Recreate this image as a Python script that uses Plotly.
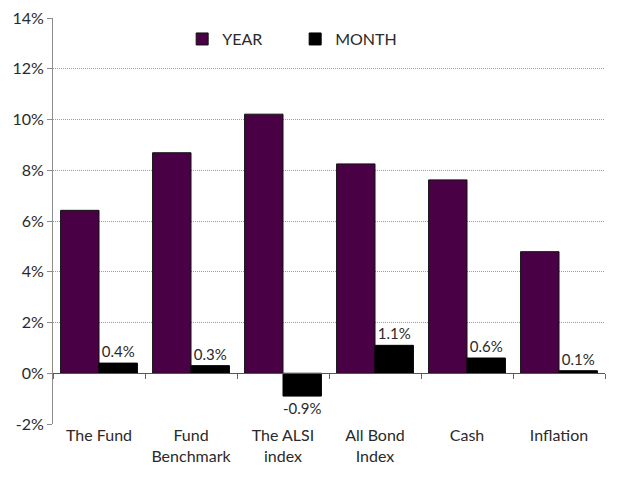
import plotly.graph_objects as go

categories = ["The Fund", "Fund<br>Benchmark", "The ALSI<br>index", "All Bond<br>Index", "Cash", "Inflation"]
year_values = [6.42, 8.69, 10.21, 8.25, 7.62, 4.79]
month_values = [0.4, 0.3, -0.9, 1.1, 0.6, 0.1]
month_labels = ["0.4%", "0.3%", "-0.9%", "1.1%", "0.6%", "0.1%"]
y_ticks = [-2, 0, 2, 4, 6, 8, 10, 12, 14]
y_tick_labels = ["-2%", "0%", "2%", "4%", "6%", "8%", "10%", "12%", "14%"]

FONT = "Lato, 'Open Sans', sans-serif"
TXT = "#2a2a2a"

fig = go.Figure()
fig.add_trace(go.Bar(
    x=categories, y=year_values, name="YEAR",
    marker=dict(color="#4A0045", line=dict(color="#111111", width=1)),
))
fig.add_trace(go.Bar(
    x=categories, y=month_values, name="MONTH",
    marker=dict(color="#000000", line=dict(color="#000000", width=1)),
    text=month_labels, textposition="outside", cliponaxis=False,
    textfont=dict(size=15, color=TXT, family=FONT),
))
# helper trace for the zero-line axis with boundary ticks
fig.add_trace(go.Scatter(
    x=categories, y=[0] * len(categories), xaxis="x2", mode="none",
    showlegend=False, hoverinfo="skip",
))

fig.update_layout(
    width=632, height=493,
    margin=dict(l=45, r=35, t=10, b=77, autoexpand=False),
    paper_bgcolor="white", plot_bgcolor="white",
    barmode="group", bargap=0.165, bargroupgap=0,
    font=dict(family=FONT, size=15, color=TXT),
    showlegend=True,
    legend=dict(orientation="h", x=0.234, y=0.99, xanchor="left", yanchor="top",
                font=dict(size=16, color=TXT, family=FONT),
                bgcolor="rgba(0,0,0,0)", itemwidth=30, entrywidth=68),
    yaxis=dict(
        range=[-2, 14.0001], tickvals=y_ticks, ticktext=y_tick_labels,
        showgrid=True, gridcolor="#9e9e9e", griddash="1px,1px", gridwidth=1,
        zeroline=False, showline=True, linecolor="#8c8c8c", linewidth=1,
        ticks="outside", ticklen=5, tickcolor="#8c8c8c", automargin=False,
        ticklabeloverflow="allow",
        tickfont=dict(size=16, color=TXT, family=FONT),
    ),
    xaxis=dict(
        showline=False, ticks="", showgrid=False, automargin=False,
        tickfont=dict(size=16, color=TXT, family=FONT),
    ),
    xaxis2=dict(
        overlaying="x", matches="x", anchor="free", position=0.125,
        showticklabels=False, showline=True, linecolor="#555555", linewidth=1,
        ticks="outside", tickson="boundaries", ticklen=5, tickcolor="#666666",
        showgrid=False, zeroline=False, automargin=False,
    ),
)

fig.write_html("out.html")
